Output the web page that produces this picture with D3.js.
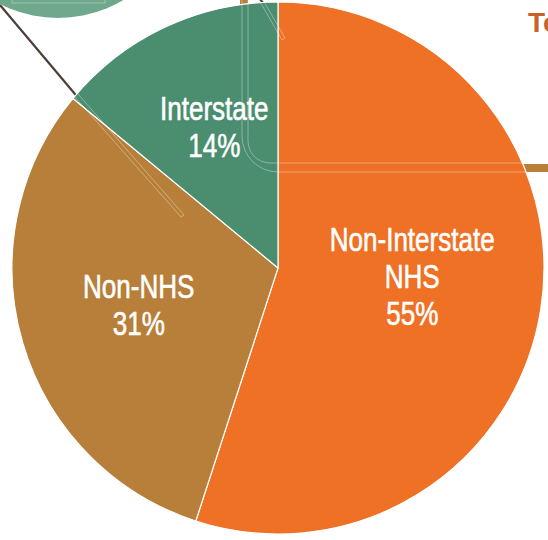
<!DOCTYPE html>
<html lang="en">

<head>
  <meta charset="UTF-8" />
  <title>Network share</title>
  <script src="https://d3js.org/d3.v7.min.js"></script>
  <style>
    body {
      margin: 0;
      background-color: white;
    }

    svg {
      display: block;
    }

    .label {
      fill: white;
      stroke: white;
      stroke-width: 0.6px;
      font-family: "Liberation Sans", Arial, sans-serif;
      font-size: 33px;
      text-anchor: middle;
    }
  </style>
</head>

<body>
  <script>
    // slices, clockwise from 12 o'clock
    const categories = ['Non-Interstate NHS', 'Non-NHS', 'Interstate'];
    const labelLines = [['Non-Interstate', 'NHS'], ['Non-NHS'], ['Interstate']];
    const shares = [55, 31, 14];

    const w = 548;
    const h = 540;
    const cx = 278;
    const cy = 268;
    const radius = 266;

    const colors = {
      'Non-Interstate NHS': '#ee7125',
      'Non-NHS': '#b77f39',
      'Interstate': '#4a8d6f'
    };
    // small hand adjustments of label blocks
    const nudge = {
      'Non-Interstate NHS': [-9, -15],
      'Non-NHS': [0, -4],
      'Interstate': [-2, -10]
    };

    const dataset = categories.map((c, i) => ({ name: c, value: shares[i], lines: labelLines[i] }));

    const svg = d3.select('body')
      .append('svg')
      .attr('width', w)
      .attr('height', h);

    // bits of the neighbouring slide graphics that peek in
    svg.append('circle')
      .attr('cx', 58)
      .attr('cy', -110)
      .attr('r', 128)
      .attr('fill', '#6fa88b');

    svg.append('rect')
      .attr('x', 12)
      .attr('y', -10)
      .attr('width', 93)
      .attr('height', 13)
      .attr('fill', 'none')
      .attr('stroke', 'white')
      .attr('stroke-opacity', 0.4)
      .attr('stroke-width', 0.8);

    svg.append('line')
      .attr('x1', 0)
      .attr('y1', 5)
      .attr('x2', 80)
      .attr('y2', 100)
      .attr('stroke', '#4b3f38')
      .attr('stroke-width', 2.2);

    svg.append('rect')
      .attr('x', 240)
      .attr('y', -6)
      .attr('width', 8)
      .attr('height', 12)
      .attr('fill', '#b77f39');

    svg.append('line')
      .attr('x1', 258)
      .attr('y1', -3)
      .attr('x2', 266)
      .attr('y2', 6)
      .attr('stroke', '#4b3f38')
      .attr('stroke-width', 2.2);

    svg.append('rect')
      .attr('x', 500)
      .attr('y', 164)
      .attr('width', 60)
      .attr('height', 8)
      .attr('fill', '#b77f39');

    svg.append('text')
      .attr('x', 528)
      .attr('y', 32)
      .attr('font-family', 'Liberation Sans, Arial, sans-serif')
      .attr('font-weight', 'bold')
      .attr('font-size', '28px')
      .attr('fill', '#c6622a')
      .text('To');

    const g = svg.append('g')
      .attr('transform', `translate(${cx},${cy})`);

    const pie = d3.pie()
      .sort(null)
      .value(d => d.value);

    const arc = d3.arc()
      .innerRadius(0)
      .outerRadius(radius);

    const labelArc = d3.arc()
      .innerRadius(145)
      .outerRadius(145);

    const arcs = pie(dataset);

    g.selectAll('path.slice')
      .data(arcs)
      .enter()
      .append('path')
      .attr('class', 'slice')
      .attr('d', arc)
      .attr('fill', d => colors[d.data.name])
      .attr('stroke', 'white')
      .attr('stroke-width', 1.2);

    // faint ghost outlines left over from the slide
    const ghost = svg.append('g')
      .attr('fill', 'none')
      .attr('stroke', 'white')
      .attr('stroke-opacity', 0.35)
      .attr('stroke-width', 1);

    ghost.append('path').attr('d', 'M242,0 V136 A36,36 0 0 0 278,172 H525');
    ghost.append('path').attr('d', 'M248,0 V141 A22,22 0 0 0 270,163 H525');
    ghost.append('path').attr('d', 'M259,0 L282,40 L285,38 L263,0');
    ghost.append('path').attr('d', 'M74,96 L181,217 L184,215 L78,94');

    const lineGap = 37;

    // narrow face is not installed, so squeeze the regular one
    const labels = g.selectAll('text.label')
      .data(arcs)
      .enter()
      .append('text')
      .attr('class', 'label')
      .attr('transform', d => {
        const c = labelArc.centroid(d);
        const n = nudge[d.data.name];
        return `translate(${c[0] + n[0]},${c[1] + n[1]}) scale(0.79,1)`;
      });

    labels.each(function (d) {
      const lines = d.data.lines.concat([d.data.value + '%']);
      const first = 12 - (lines.length - 1) * lineGap / 2;
      d3.select(this)
        .selectAll('tspan')
        .data(lines)
        .enter()
        .append('tspan')
        .attr('x', 0)
        .attr('y', (t, i) => first + i * lineGap)
        .text(t => t);
    });
  </script>
</body>

</html>
